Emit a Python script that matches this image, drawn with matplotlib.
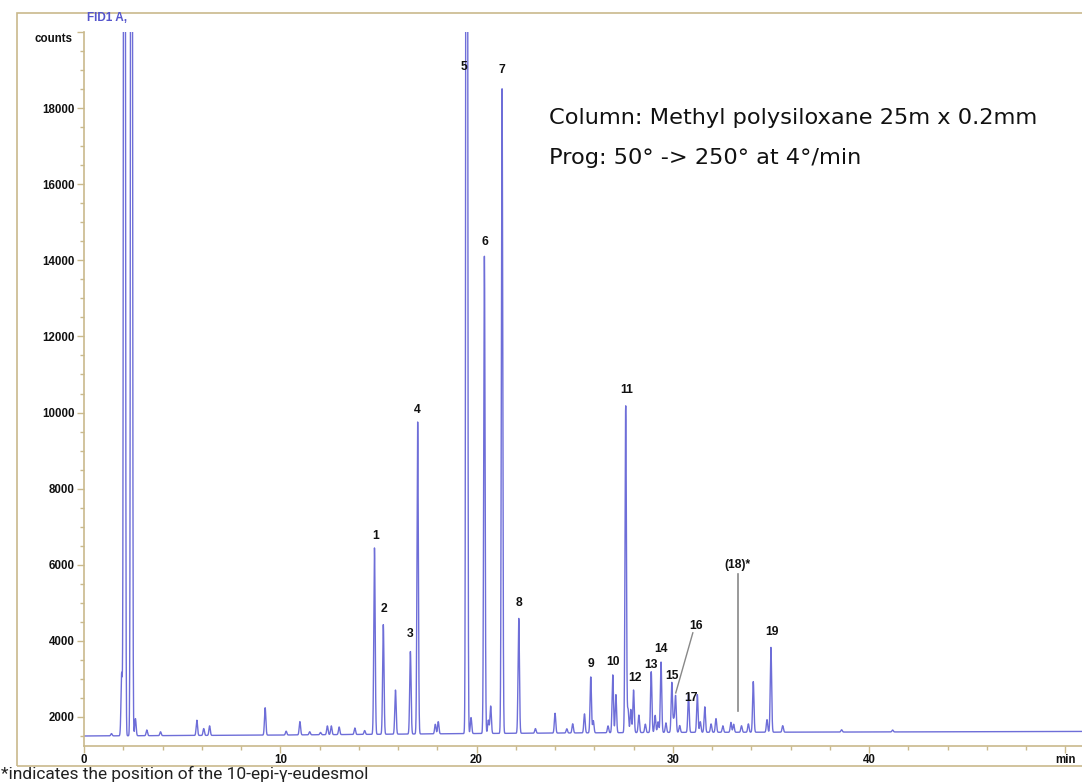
import numpy as np
import matplotlib
matplotlib.use("Agg")
import matplotlib.pyplot as plt
from matplotlib.patches import Rectangle
from matplotlib.ticker import MultipleLocator, FixedLocator

plt.rcParams['font.family'] = ['Liberation Sans', 'DejaVu Sans']

# ---- data ----
peak_times = [1.4, 1.92, 2.06, 2.42, 2.62, 3.2, 3.9, 5.75, 6.1, 6.4, 9.23, 10.3, 11.0, 11.5,
              12.05, 12.4, 12.6, 13.0, 13.8, 14.3,
              14.8, 15.25, 15.87, 16.63, 17.0, 17.9, 18.05, 19.5, 19.72, 20.4, 20.6, 20.72,
              21.3, 22.15, 23.0, 24.0, 24.6, 24.9, 25.5, 25.82, 25.95, 26.7, 26.94, 27.1,
              27.6, 27.72, 27.86, 28.0, 28.27, 28.6, 28.9, 29.1, 29.25, 29.4, 29.65, 29.95,
              30.05, 30.14, 30.35, 30.8, 31.25, 31.4, 31.63, 31.95, 32.2, 32.55, 32.96,
              33.1, 33.5, 33.85, 34.1, 34.8, 35.0, 35.6, 38.6, 41.2]
peak_heights = [60, 1650, 60000, 60000, 450, 150, 100, 400, 180, 250, 720, 100, 350, 80,
                60, 230, 230, 200, 170, 100,
                4900, 2880, 1160, 2170, 8200, 250, 320, 60000, 420, 12540, 350, 720,
                16950, 3020, 120, 520, 110, 240, 500, 1470, 320, 180, 1520, 1000,
                8600, 610, 610, 1120, 460, 220, 1600, 450, 280, 1850, 250, 1310,
                320, 960, 180, 1010, 990, 280, 670, 220, 360, 170, 260,
                210, 170, 220, 1330, 330, 2230, 170, 60, 50]
peak_sigma = 0.035

base_t = [0, 10, 20, 30, 40, 51]
base_counts = [1500, 1525, 1565, 1595, 1605, 1620]

label_text = ['1', '2', '3', '4', '5', '6', '7', '8', '9', '10', '11', '12', '13', '14',
              '15', '16', '17', '(18)*', '19']
label_x = [14.85, 15.31, 16.63, 16.97, 19.34, 20.41, 21.28, 22.14, 25.82, 26.97, 27.65,
           28.06, 28.88, 29.39, 29.95, 31.19, 30.95, 33.30, 35.03]
label_y = [6763, 4842, 4184, 10079, 19079, 14474, 19000, 5000, 3395, 3447, 10605,
           3026, 3369, 3790, 3079, 4395, 2500, 6000, 4237]

t = np.linspace(0, 51.5, 12000)
signal = np.interp(t, base_t, base_counts)
for pt, ph in zip(peak_times, peak_heights):
    signal = signal + ph * np.exp(-0.5 * ((t - pt) / peak_sigma) ** 2)

W, H = 1082, 782
fig = plt.figure(figsize=(W / 100, H / 100), dpi=100)
fig.patch.set_facecolor('white')

tan = '#c9b98c'
# outer frame
fig.patches.append(Rectangle((17 / W, 1 - 766 / H), 1.2, (766 - 13) / H,
                             transform=fig.transFigure, fill=False,
                             edgecolor=tan, linewidth=1.2, zorder=0))

ax = fig.add_axes([84 / W, 1 - 746 / H, (W - 84) / W + 0.01, (746 - 32) / H])
ax.plot(t, signal, color='#6e6ed8', linewidth=1.0)
ax.set_xlim(0, 51.4)
ax.set_ylim(1237, 20000)

for s in ['top', 'right']:
    ax.spines[s].set_visible(False)
for s in ['left', 'bottom']:
    ax.spines[s].set_color(tan)
    ax.spines[s].set_linewidth(1.2)

ax.yaxis.set_major_locator(FixedLocator([2000, 4000, 6000, 8000, 10000, 12000, 14000,
                                         16000, 18000, 20000]))
ax.set_yticklabels(['2000', '4000', '6000', '8000', '10000', '12000', '14000', '16000',
                    '18000', ''])
ax.yaxis.set_minor_locator(MultipleLocator(500))
ax.xaxis.set_major_locator(FixedLocator([0, 10, 20, 30, 40, 50]))
ax.set_xticklabels(['0', '10', '20', '30', '40', 'min'])
ax.xaxis.set_minor_locator(MultipleLocator(2))
ax.tick_params(axis='both', which='major', color=tan, length=5, width=1,
               labelsize=8.3, pad=2)
ax.tick_params(axis='both', which='minor', color=tan, length=3, width=1)
ax.tick_params(axis='x', which='major', pad=0.5)
for lbl in ax.get_xticklabels() + ax.get_yticklabels():
    lbl.set_fontweight('bold')
    lbl.set_color('#111111')

ax.annotate('counts', xy=(0, 19816), xycoords=('axes fraction', 'data'),
            xytext=(-8, 0), textcoords='offset points', ha='right', va='center',
            fontsize=8.3, fontweight='bold', color='#111111')

for txt, lx, ly in zip(label_text, label_x, label_y):
    ax.text(lx, ly, txt, ha='center', va='center', fontsize=8.7, color='#111111',
            fontweight='bold')

# leader lines for peaks 16 and (18)*
ax.plot([31.02, 30.15], [4211, 2632], color='#888888', linewidth=1)
ax.plot([33.33, 33.33], [5763, 2158], color='#888888', linewidth=1.2)

ax.text(23.67, 17737, 'Column: Methyl polysiloxane 25m x 0.2mm', fontsize=16.2,
        color='#111111', va='center', ha='left', family=['DejaVu Sans'])
ax.text(23.67, 16684, 'Prog: 50° -> 250° at 4°/min', fontsize=16.2,
        color='#111111', va='center', ha='left', family=['DejaVu Sans'])

fig.text(87 / W, 1 - 18 / H, 'FID1 A,', fontsize=8.5, color='#5555cc',
         fontweight='bold', va='center', ha='left')
fig.text(1 / W, 1 - 779 / H, '*indicates the position of the 10-epi-γ-eudesmol',
         fontsize=12.5, color='#222222', va='baseline', ha='left',
         family=['Roboto', 'DejaVu Sans'])

fig.savefig('out.png', dpi=100)
